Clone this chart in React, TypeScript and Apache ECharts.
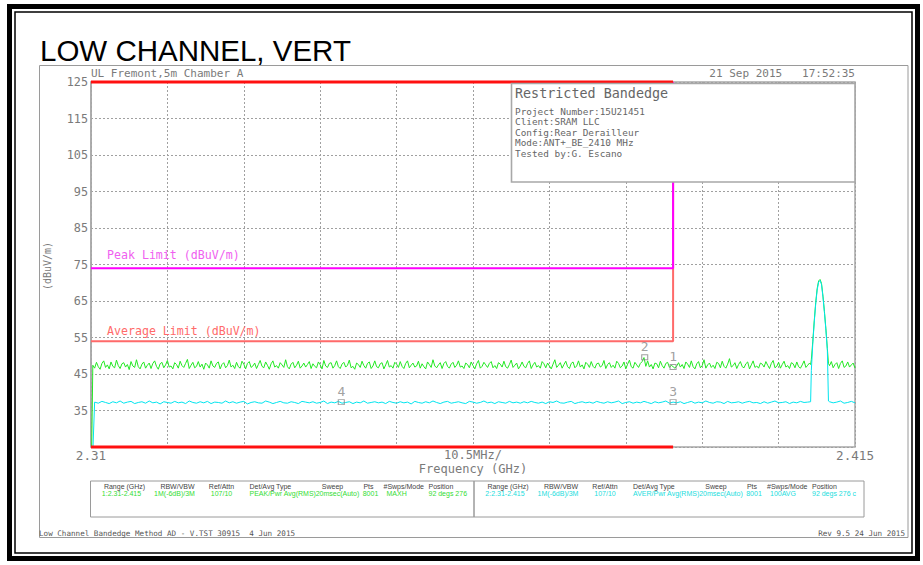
import { useEffect, useRef } from 'react';
import * as echarts from 'echarts';

// ---------- data ----------
const freqStartMHz = 2310;
const freqEndMHz = 2415;
const peakStepMHz = 0.25;
const avgStepMHz = 0.5;
const restrictedEdgeMHz = 2390;
const peakLimitDb = 74;
const avgLimitDb = 54;
const yMin = 25;
const yMax = 125;

// Trace 1 (peak, MAXH), one value every 0.25 MHz from 2310 MHz; null = covered by carrier points
const peakTrace: (number | null)[] = [
  10, 47.4, 46.6, 48.2, 47.0, 46.3, 47.9, 48.6, 46.8, 47.5, 46.4, 48.3, 47.1, 46.7, 48.8, 47.3, 46.5, 47.8, 48.1, 46.9,
  47.6, 46.2, 48.4, 47.2, 46.8, 48.9, 47.0, 46.4, 47.7, 48.3, 46.6, 47.4, 48.0, 46.5, 47.9, 48.6, 47.1, 46.3, 47.8, 48.2,
  46.7, 47.5, 48.7, 46.9, 47.2, 46.4, 48.1, 47.6, 46.6, 48.5, 47.3, 46.8, 47.9, 49.0, 46.5, 47.4, 48.2, 46.7, 47.1, 48.4,
  46.9, 47.7, 46.3, 48.0, 47.5, 46.6, 48.6, 47.2, 46.8, 47.9, 48.3, 46.4, 47.6, 48.1, 46.7, 47.3, 48.8, 46.9, 47.4, 46.5,
  48.2, 47.0, 46.6, 48.5, 47.7, 46.4, 47.9, 48.4, 46.8, 47.2, 48.0, 46.5, 47.6, 48.7, 47.1, 46.7, 48.3, 47.4, 46.3, 47.8,
  48.6, 46.9, 47.3, 46.6, 48.1, 47.5, 46.8, 48.9, 47.0, 46.4, 47.7, 48.2, 46.7, 47.4, 48.5, 46.6, 47.2, 48.0, 46.9, 47.6,
  48.4, 46.5, 47.8, 47.1, 46.7, 48.3, 47.5, 46.4, 48.7, 47.2, 46.8, 47.9, 48.1, 46.6, 47.3, 48.6, 47.0, 46.5, 47.7, 48.2,
  46.9, 47.4, 48.8, 46.7, 47.1, 46.3, 48.0, 47.6, 46.8, 48.5, 47.3, 46.6, 47.9, 48.3, 46.5, 47.2, 48.6, 47.0, 46.7, 47.8,
  48.1, 46.4, 47.5, 48.7, 46.9, 47.3, 46.6, 48.2, 47.7, 46.8, 48.4, 47.1, 46.5, 47.9, 48.6, 46.7, 47.4, 48.0, 46.9, 47.2,
  48.5, 46.6, 47.8, 47.0, 46.4, 48.3, 47.6, 46.8, 48.9, 47.2, 46.7, 47.5, 48.1, 46.5, 47.9, 48.4, 47.1, 46.6, 47.7, 48.2,
  46.8, 47.4, 48.6, 46.9, 47.2, 46.5, 48.0, 47.6, 46.7, 48.3, 47.3, 46.4, 47.8, 48.7, 46.6, 47.1, 48.2, 47.5, 46.8, 47.9,
  48.4, 46.7, 47.3, 46.5, 48.1, 47.7, 46.9, 48.5, 47.0, 46.6, 47.6, 48.8, 46.8, 47.4, 48.0, 46.4, 47.2, 48.3, 47.1, 46.7,
  47.9, 48.6, 46.5, 47.5, 48.2, 46.9, 47.3, 46.6, 48.4, 47.8, 46.7, 48.0, 47.2, 46.4, 47.7, 48.9, 46.8, 47.4, 48.1, 46.6,
  47.6, 48.5, 47.0, 46.5, 47.9, 48.3, 46.7, 47.2, 48.6, 46.9, 47.5, 46.4, 48.2, 47.7, 46.8, 48.4, 47.1, 46.6, 47.8, 48.0,
  46.9, 47.3, 48.7, 46.5, 47.6, 48.1, 46.8, 47.4, 46.6, 48.5, 47.9, 46.7, 47.2, 48.3, 46.4, 47.7, 48.8, 47.0, 46.6, 48.2,
  47.5, 46.8, 47.9, 48.4, 49.5, 47.1, 48.6, 46.9, 47.6, 46.4, 48.0, 47.8, 46.7, 48.5, 47.3, 46.6, 47.9, 48.2, 46.8, 47.4,
  47.0, 46.6, 47.2, 48.1, 46.9, 47.6, 46.5, 48.3, 47.7, 46.8, 48.6, 47.0, 46.4, 47.8, 48.4, 46.7, 47.3, 48.9, 46.6, 47.5,
  48.0, 46.8, 47.4, 46.5, 48.2, 47.9, 46.7, 48.5, 47.1, 46.6, 47.7, 49.2, 46.9, 47.3, 48.1, 46.5, 47.6, 48.4, 47.0, 46.7,
  47.8, 48.3, 46.4, 47.5, 48.6, 46.8, 47.2, 46.6, 48.0, 47.7, 46.9, 48.4, 47.4, 46.5, 47.9, 48.7, 46.7, 47.1, 48.2, 46.6,
  47.6, 48.5, 46.9, 47.3, 46.5, 48.1, 47.8, 46.7, 48.3, 47.0, 46.6, 47.5, 48.6, 46.8, 47.4, 48.0,
  null, null, null, null, null, null, null, null, null, null,
  47.3, 48.4, 46.7, 47.6, 48.1, 46.5, 47.9, 48.6, 46.8, 47.2, 48.3, 46.9, 47.5, 48.0, 46.6,
];

// Trace 2 (average, 100AVG), one value every 0.5 MHz from 2310 MHz
const avgTrace: (number | null)[] = [
  10, 37.3, 37.0, 37.5, 37.2, 36.9, 37.4, 37.1, 37.6, 37.0, 37.3, 37.5, 36.9, 37.2, 37.4, 37.0, 37.6, 37.1, 37.3, 36.8,
  37.4, 37.2, 37.0, 37.5, 37.1, 37.3, 36.9, 37.6, 37.2, 37.0, 37.4, 37.1, 37.5, 36.9, 37.3, 37.2, 37.0, 37.6, 37.1, 37.4,
  37.0, 37.3, 37.5, 36.8, 37.2, 37.4, 37.1, 37.0, 37.6, 37.3, 36.9, 37.2, 37.5, 37.1, 37.0, 37.4, 37.2, 36.9, 37.5, 37.3,
  37.1, 37.4, 37.0, 37.2, 37.6, 36.9, 37.3, 37.1, 37.5, 37.0, 37.2, 37.4, 36.9, 37.3, 37.1, 37.6, 37.0, 37.2, 37.4, 37.1,
  37.3, 36.9, 37.5, 37.2, 37.0, 37.4, 37.1, 37.3, 36.8, 37.5, 37.2, 37.0, 37.4, 37.1, 37.6, 37.2, 36.9, 37.3, 37.5, 37.0,
  37.2, 37.4, 37.1, 36.9, 37.5, 37.3, 37.0, 37.2, 37.6, 37.1, 37.3, 36.9, 37.4, 37.2, 37.0, 37.5, 37.1, 37.3, 37.0, 37.4,
  37.1, 37.5, 37.2, 37.0, 37.3, 36.9, 37.4, 37.2, 37.6, 37.1, 37.0, 37.3, 37.5, 36.9, 37.2, 37.4, 37.1, 37.3, 37.0, 37.5,
  37.2, 37.0, 37.4, 37.1, 37.3, 37.6, 36.9, 37.2, 37.4, 37.0, 37.3, 37.1, 37.5, 37.2, 36.9, 37.4, 37.1, 37.3, 37.6, 37.0,
  37.3, 37.1, 37.4, 36.9, 37.2, 37.5, 37.0, 37.3, 37.1, 37.6, 37.2, 37.0, 37.4, 37.3, 36.9, 37.5, 37.1, 37.2, 37.4, 37.0,
  37.3, 37.5, 37.1, 37.2, 36.9, 37.4, 37.0, 37.3, 37.6, 37.1, 37.2, 37.4, 36.9, 37.3, 37.1, 37.5, 37.2, 37.3, null, null,
  null, null, null, 37.4, 37.1, 37.3, 37.6, 37.0, 37.2, 37.5, 37.1,
];

// carrier at 2410 MHz (finer points)
const carrierFreqs = [2408.9, 2409.0, 2409.2, 2409.4, 2409.6, 2409.8, 2410.0, 2410.2, 2410.4, 2410.6, 2410.8, 2411.0, 2411.2, 2411.35];
const carrierPeak = [47.6, 48.9, 54.0, 59.6, 64.6, 68.4, 70.5, 70.9, 69.8, 66.3, 62.1, 57.4, 52.0, 47.9];
const carrierAvg = [37.4, 46.0, 53.4, 59.2, 64.2, 68.0, 70.2, 70.6, 69.5, 66.0, 61.8, 57.0, 51.5, 37.6];

// markers
const markerLabels = ['1', '2', '3', '4'];
const markerFreqs = [2390, 2386.1, 2390, 2344.4];
const markerValues = [46.9, 49.6, 37.3, 37.3];

// texts
const chartTitle = 'LOW CHANNEL, VERT';
const siteText = 'UL Fremont,5m Chamber A';
const dateText = '21 Sep 2015   17:52:35';
const boxTitle = 'Restricted Bandedge';
const boxLines = ['Project Number:15U21451', 'Client:SRAM LLC', 'Config:Rear Derailleur', 'Mode:ANT+_BE_2410 MHz', 'Tested by:G. Escano'];
const legendHeaders = ['Range (GHz)', 'RBW/VBW', 'Ref/Attn', 'Det/Avg Type', 'Sweep', 'Pts', '#Swps/Mode', 'Position'];
const trace1Settings = ['1:2.31-2.415', '1M(-6dB)/3M', '107/10', 'PEAK/Pwr Avg(RMS)', '20msec(Auto)', '8001', 'MAXH', '92 degs 276 cm V'];
const trace2Settings = ['2:2.31-2.415', '1M(-6dB)/3M', '107/10', 'AVER/Pwr Avg(RMS)', '20msec(Auto)', '8001', '100AVG', '92 degs 276 cm V'];
const footerLeft = 'Low Channel Bandedge Method AD - V.TST 30915  4 Jun 2015';
const footerRight = 'Rev 9.5 24 Jun 2015';

// ---------- helpers ----------
function buildTrace(values: (number | null)[], step: number, carrier: number[]): number[][] {
  const pts: number[][] = [];
  values.forEach((v, i) => {
    if (v !== null) pts.push([freqStartMHz + i * step, v]);
  });
  carrierFreqs.forEach((f, j) => pts.push([f, carrier[j]]));
  pts.sort((a, b) => a[0] - b[0]);
  return pts;
}

const MONO = '"DejaVu Sans Mono", "Liberation Mono", monospace';
const SANS = '"Liberation Sans", Arial, sans-serif';
const GRAY = '#7a7a7a';

// legend column layout (relative to box left): header x/align, value x/align
const colLayout = [
  { hx: 34, ha: 'center', vx: 31, va: 'center' },
  { hx: 87, ha: 'center', vx: 84, va: 'center' },
  { hx: 131, ha: 'center', vx: 131, va: 'center' },
  { hx: 159, ha: 'left', vx: 159, va: 'left' },
  { hx: 242, ha: 'center', vx: 247, va: 'center' },
  { hx: 278, ha: 'center', vx: 280, va: 'center' },
  { hx: 293, ha: 'left', vx: 296, va: 'left' },
  { hx: 338, ha: 'left', vx: 338, va: 'left' },
];

function legendBox(left: number, width: number, values: string[], color: string): any[] {
  const els: any[] = [
    { type: 'rect', shape: { x: left, y: 481, width, height: 36 }, style: { fill: 'none', stroke: '#9a9a9a', lineWidth: 1 }, z: 50 },
  ];
  legendHeaders.forEach((h, i) => {
    const c = colLayout[i];
    els.push({
      type: 'text', x: left + c.hx, y: 486, z: 51,
      style: { text: h, fill: '#444', fontSize: 7, fontFamily: SANS, align: c.ha, verticalAlign: 'middle' },
    });
    const txt: any = { text: values[i], fill: color, fontSize: 7, fontFamily: SANS, align: c.va, verticalAlign: 'middle' };
    if (i === legendHeaders.length - 1) {
      txt.width = width - c.vx - 2;
      txt.overflow = 'truncate';
      txt.ellipsis = '';
    }
    els.push({ type: 'text', x: left + c.vx, y: 493, z: 51, style: txt });
  });
  return els;
}

export default function App() {
  const ref = useRef<HTMLDivElement>(null);

  useEffect(() => {
    if (!ref.current) return;
    const chart = echarts.init(ref.current, undefined, { renderer: 'svg' });

    const markerData = markerFreqs.map((f, i) => ({ value: [f, markerValues[i]], name: markerLabels[i] }));

    const graphicEls: any[] = [
      // outer double black frame
      { type: 'rect', shape: { x: 9.5, y: 6.5, width: 908, height: 552 }, style: { fill: 'none', stroke: '#000', lineWidth: 5 }, z: 1 },
      { type: 'rect', shape: { x: 15, y: 12, width: 897, height: 541 }, style: { fill: 'none', stroke: '#000', lineWidth: 1.5 }, z: 1 },
      // inner gray frame
      { type: 'rect', shape: { x: 39.5, y: 65.5, width: 868.5, height: 472 }, style: { fill: 'none', stroke: '#9a9a9a', lineWidth: 1 }, z: 1 },
      // title
      { type: 'text', x: 40, y: 50, z: 50, style: { text: chartTitle, fill: '#000', fontSize: 29.5, fontFamily: SANS, align: 'left', verticalAlign: 'middle' } },
      // header texts
      { type: 'text', x: 91, y: 73, z: 50, style: { text: siteText, fill: GRAY, fontSize: 11, fontFamily: MONO, align: 'left', verticalAlign: 'middle' } },
      { type: 'text', x: 855, y: 73, z: 50, style: { text: dateText, fill: GRAY, fontSize: 11, fontFamily: MONO, align: 'right', verticalAlign: 'middle' } },
      // y axis title
      { type: 'text', x: 47, y: 266, rotation: Math.PI / 2, z: 50, style: { text: '(dBuV/m)', fill: GRAY, fontSize: 10, fontFamily: MONO, align: 'center', verticalAlign: 'middle' } },
      // limit labels
      { type: 'text', x: 107, y: 255, z: 50, style: { text: 'Peak Limit (dBuV/m)', fill: '#f060f0', fontSize: 11.6, fontFamily: MONO, align: 'left', verticalAlign: 'middle' } },
      { type: 'text', x: 107, y: 331, z: 50, style: { text: 'Average Limit (dBuV/m)', fill: '#ff6a6a', fontSize: 11.6, fontFamily: MONO, align: 'left', verticalAlign: 'middle' } },
      // x axis texts
      { type: 'text', x: 473, y: 455, z: 50, style: { text: '10.5MHz/', fill: GRAY, fontSize: 12, fontFamily: MONO, align: 'center', verticalAlign: 'middle' } },
      { type: 'text', x: 473, y: 469, z: 50, style: { text: 'Frequency (GHz)', fill: GRAY, fontSize: 12, fontFamily: MONO, align: 'center', verticalAlign: 'middle' } },
      // info box
      { type: 'rect', shape: { x: 511.5, y: 83.5, width: 343.5, height: 98.5 }, style: { fill: '#fff', stroke: '#a8a8a8', lineWidth: 1.6 }, z: 100 },
      { type: 'text', x: 515, y: 93, z: 101, style: { text: boxTitle, fill: '#666', fontSize: 13.4, fontFamily: MONO, align: 'left', verticalAlign: 'middle' } },
      ...boxLines.map((t, i) => ({
        type: 'text', x: 515, y: 111 + i * 10.6, z: 101,
        style: { text: t, fill: '#666', fontSize: 9.4, fontFamily: MONO, align: 'left', verticalAlign: 'middle' },
      })),
      // legend boxes
      ...legendBox(90.5, 383.5, trace1Settings, '#33dd33'),
      ...legendBox(474, 390, trace2Settings, '#22dddd'),
      // footers
      { type: 'text', x: 39, y: 533, z: 50, style: { text: footerLeft, fill: '#555', fontSize: 7.6, fontFamily: MONO, align: 'left', verticalAlign: 'middle' } },
      { type: 'text', x: 905, y: 533, z: 50, style: { text: footerRight, fill: '#555', fontSize: 7.6, fontFamily: MONO, align: 'right', verticalAlign: 'middle' } },
    ];

    const gridLine = { show: true, lineStyle: { color: '#a0a0a0', type: [2, 2], width: 1 } };

    chart.setOption({
      animation: false,
      backgroundColor: '#ffffff',
      grid: { left: 91, top: 82, width: 764, height: 365, show: true, borderColor: '#a8a8a8', borderWidth: 1.5, backgroundColor: 'transparent' },
      xAxis: {
        type: 'value', min: freqStartMHz, max: freqEndMHz, interval: 10.5,
        axisLine: { show: false }, axisTick: { show: false },
        splitLine: gridLine,
        axisLabel: {
          showMinLabel: true, showMaxLabel: true,
          formatter: (v: number) => (Math.abs(v - freqStartMHz) < 0.01 ? '2.31' : Math.abs(v - freqEndMHz) < 0.01 ? '2.415' : ''),
          color: GRAY, fontFamily: MONO, fontSize: 12.6, margin: 2,
        },
      },
      yAxis: {
        type: 'value', min: yMin, max: yMax, interval: 10,
        axisLine: { show: true, lineStyle: { color: '#a8a8a8', width: 1.5 } }, axisTick: { show: false },
        splitLine: gridLine,
        axisLabel: {
          formatter: (v: number) => (v === yMin ? '' : String(v)),
          color: GRAY, fontFamily: MONO, fontSize: 11.8, margin: 3,
        },
      },
      series: [
        {
          type: 'line', name: 'Trace 1', data: buildTrace(peakTrace, peakStepMHz, carrierPeak), symbol: 'none', z: 2,
          lineStyle: { color: '#22e822', width: 1 }, silent: true,
        },
        {
          type: 'line', name: 'Trace 2', data: buildTrace(avgTrace, avgStepMHz, carrierAvg), symbol: 'none', z: 2,
          lineStyle: { color: '#00e4ee', width: 1 }, silent: true,
        },
        {
          type: 'line', name: 'Average Limit', symbol: 'none', z: 3, clip: false, silent: true,
          data: [[freqStartMHz, avgLimitDb], [restrictedEdgeMHz, avgLimitDb], [restrictedEdgeMHz, yMax]],
          lineStyle: { color: '#ff6a6a', width: 2 },
        },
        {
          type: 'line', name: 'Peak Limit', symbol: 'none', z: 3, clip: false, silent: true,
          data: [[freqStartMHz, peakLimitDb], [restrictedEdgeMHz, peakLimitDb], [restrictedEdgeMHz, yMax]],
          lineStyle: { color: '#ff00ff', width: 2 },
        },
        {
          type: 'line', name: 'Restricted Top', symbol: 'none', z: 4, clip: false, silent: true,
          data: [[freqStartMHz, yMax], [restrictedEdgeMHz, yMax]],
          lineStyle: { color: '#ff1010', width: 3 },
        },
        {
          type: 'line', name: 'Restricted Bottom', symbol: 'none', z: 4, clip: false, silent: true,
          data: [[freqStartMHz, yMin], [restrictedEdgeMHz, yMin]],
          lineStyle: { color: '#ff1010', width: 3 },
        },
        {
          type: 'scatter', name: 'Markers', data: markerData, symbol: 'rect', symbolSize: [6, 5], z: 5, silent: true,
          itemStyle: { color: 'rgba(255,255,255,0)', borderColor: '#888', borderWidth: 1 },
          label: { show: true, position: 'top', distance: 1, formatter: '{b}', color: '#888', fontSize: 13, fontFamily: MONO },
        },
      ],
      graphic: { elements: graphicEls },
    });

    return () => chart.dispose();
  }, []);

  return <div ref={ref} style={{ position: 'fixed', left: 0, top: 0, width: 923, height: 565, background: '#fff' }} />;
}
